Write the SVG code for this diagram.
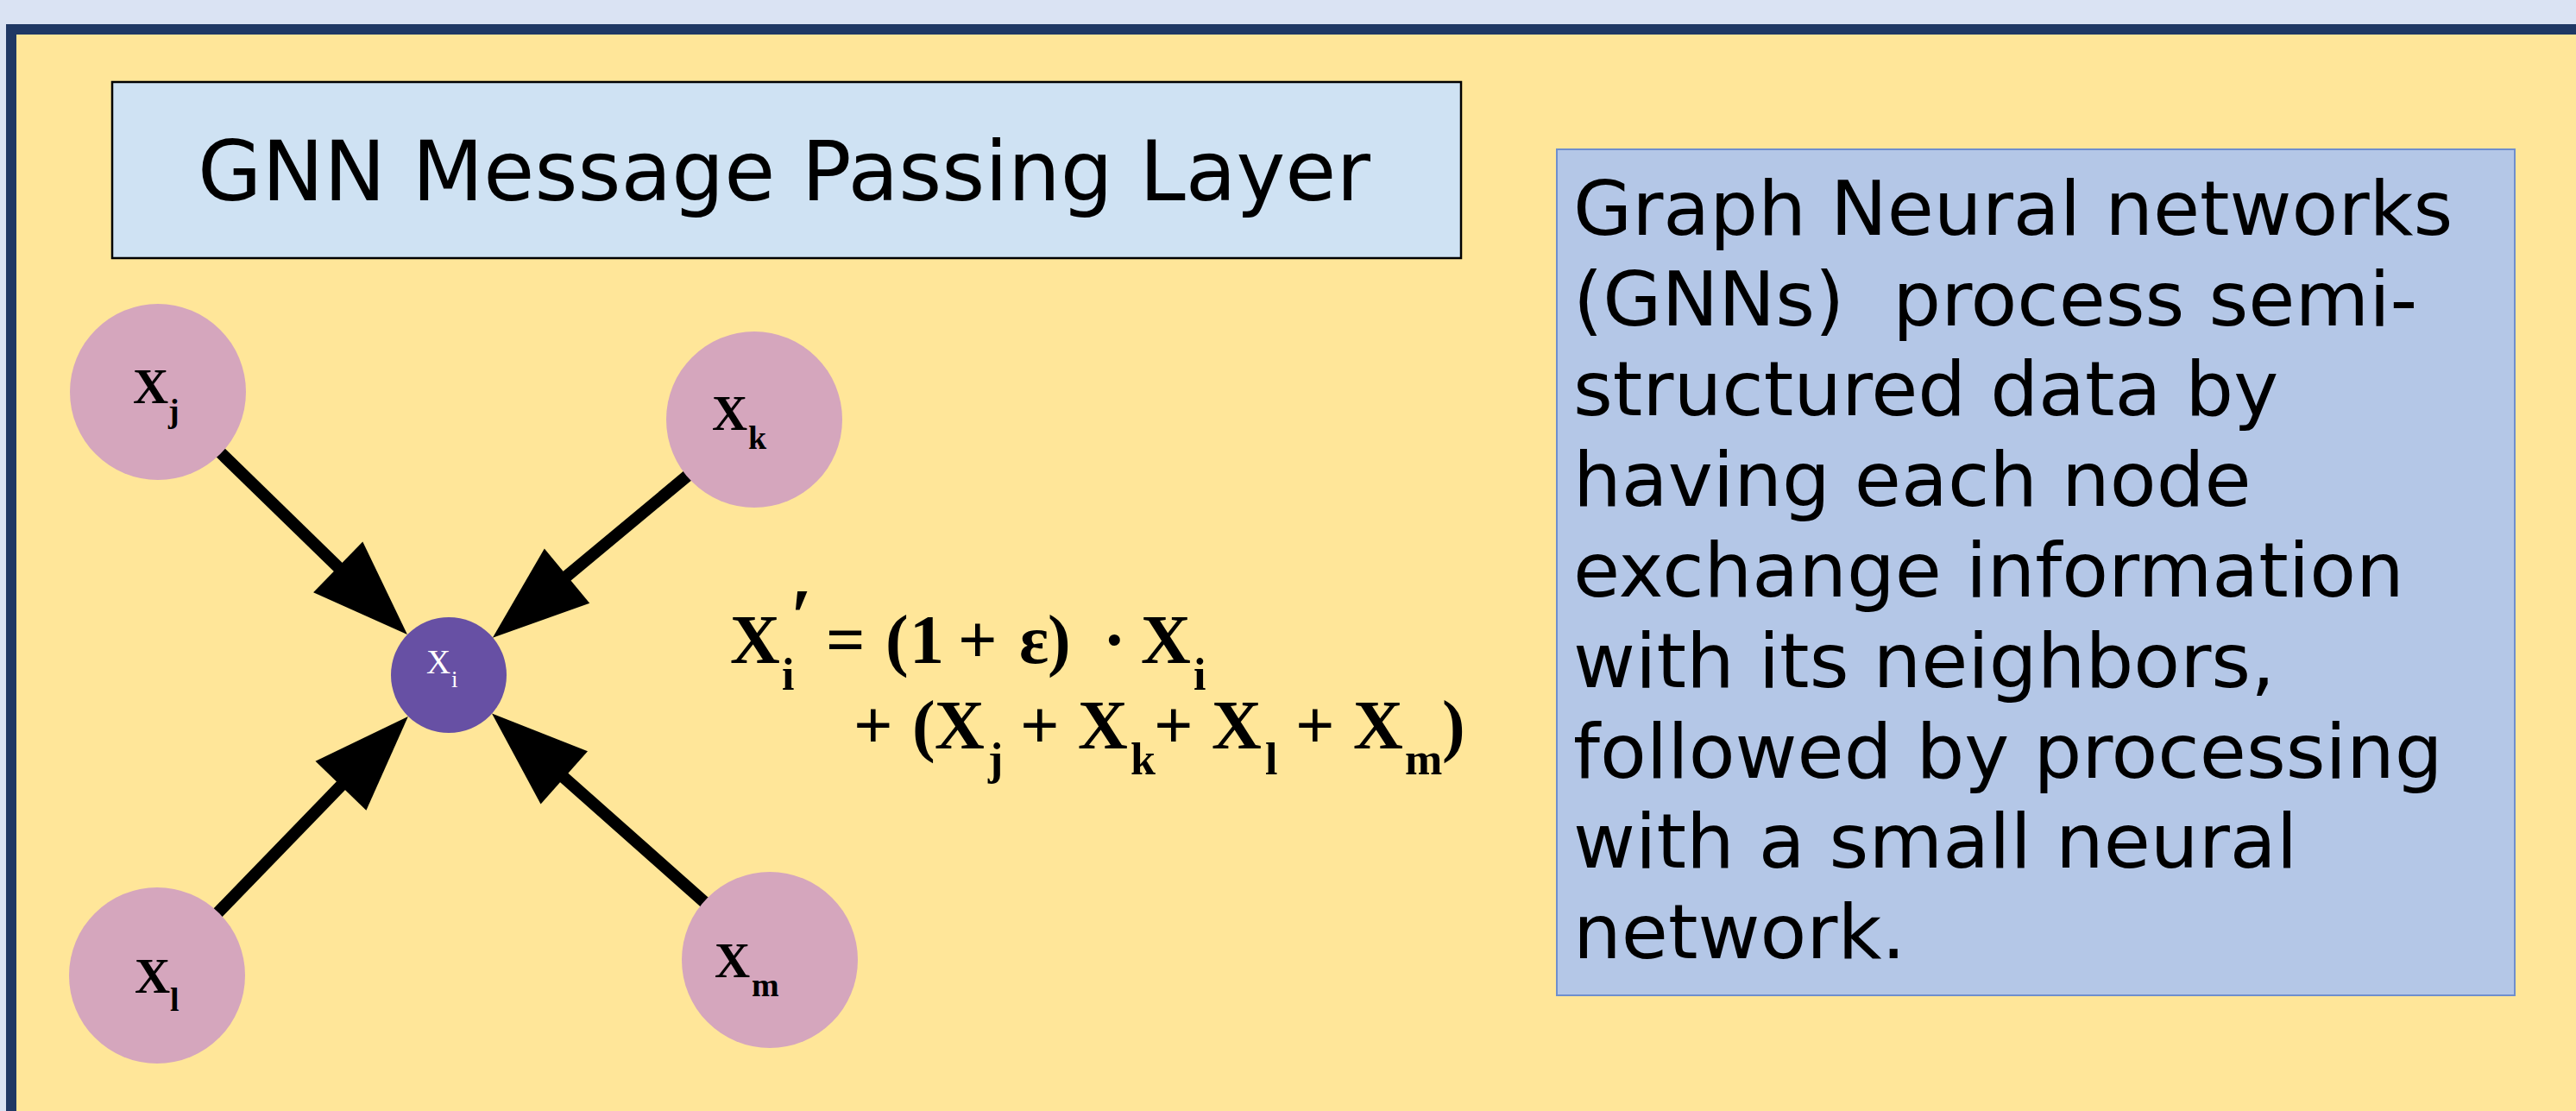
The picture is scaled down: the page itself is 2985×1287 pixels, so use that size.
<svg xmlns="http://www.w3.org/2000/svg" width="2985" height="1287" viewBox="0 0 2985 1287">
<style>
.nb{fill:#D5A6BD}
.lbl{font-family:"Liberation Serif","Times New Roman",serif;font-weight:bold;fill:#000}
.eq{font-family:"Liberation Serif","Times New Roman",serif;font-weight:bold;font-size:80px;fill:#000}
.sub{font-size:52px}
.conn{stroke:#000;stroke-width:14;fill:none}
.body{font-family:"DejaVu Sans",Verdana,sans-serif;font-size:88px;fill:#000}
</style>
<defs>
<marker id="ah" markerUnits="userSpaceOnUse" markerWidth="112" markerHeight="82" refX="12" refY="41" orient="auto" overflow="visible">
<path d="M0,0 L112,41 L0,82 z" fill="#000"/>
</marker>
</defs>
<rect x="0" y="0" width="2985" height="1287" fill="#DAE3F3"/>
<rect x="7" y="28" width="2978" height="1259" fill="#1F3864"/>
<rect x="19" y="40" width="2966" height="1247" fill="#FFE699"/>

<g id="title">
<rect x="130" y="95" width="1563" height="204" fill="#CFE2F3" stroke="#000" stroke-width="2.5"/>
<text x="229" y="232" font-family="'DejaVu Sans',Verdana,sans-serif" font-size="96" fill="#000">GNN Message Passing Layer</text>
</g>

<g id="connectors">
<line class="conn" x1="249" y1="518" x2="400.3" y2="665.3" marker-end="url(#ah)"/>
<line class="conn" x1="804" y1="545" x2="647.8" y2="674.8" marker-end="url(#ah)"/>
<line class="conn" x1="246" y1="1064" x2="403.3" y2="901.7" marker-end="url(#ah)"/>
<line class="conn" x1="823" y1="1051" x2="644.8" y2="892.9" marker-end="url(#ah)"/>
</g>

<g id="node-xj">
<circle class="nb" cx="183" cy="454" r="102"/>
<text class="lbl"><tspan x="154" y="467" font-size="57">X</tspan><tspan x="195" y="489" font-size="38">j</tspan></text>
</g>
<g id="node-xk">
<circle class="nb" cx="874" cy="486" r="102"/>
<text class="lbl"><tspan x="825" y="498" font-size="57">X</tspan><tspan x="867" y="520" font-size="38">k</tspan></text>
</g>
<g id="node-xl">
<circle class="nb" cx="182" cy="1130" r="102"/>
<text class="lbl"><tspan x="156" y="1150" font-size="57">X</tspan><tspan x="197" y="1171" font-size="38">l</tspan></text>
</g>
<g id="node-xm">
<circle class="nb" cx="892" cy="1112" r="102"/>
<text class="lbl"><tspan x="828" y="1132" font-size="57">X</tspan><tspan x="871" y="1154" font-size="38">m</tspan></text>
</g>
<g id="node-xi">
<circle cx="520" cy="782" r="67" fill="#6750A4"/>
<text font-family="'Liberation Serif','Times New Roman',serif" fill="#FFFFFF"><tspan x="494" y="780" font-size="39">X</tspan><tspan x="523" y="796" font-size="27">i</tspan></text>
</g>

<g id="formula">
<text class="eq">
<tspan x="846" y="768">X</tspan><tspan class="sub" x="906" y="799">i</tspan><tspan x="916" y="745" font-size="90">′</tspan><tspan x="957" y="768">=</tspan><tspan x="1026" y="768">(</tspan><tspan x="1054" y="768">1</tspan><tspan x="1110" y="768">+</tspan><tspan x="1181" y="768">ε</tspan><tspan x="1214" y="768">)</tspan><tspan x="1278" y="768">·</tspan><tspan x="1322" y="768">X</tspan><tspan class="sub" x="1383" y="799">i</tspan>
</text>
<text class="eq">
<tspan x="989" y="867">+</tspan><tspan x="1057" y="867">(</tspan><tspan x="1083" y="867">X</tspan><tspan class="sub" x="1145" y="897">j</tspan><tspan x="1182" y="867">+</tspan><tspan x="1249" y="867">X</tspan><tspan class="sub" x="1310" y="897">k</tspan><tspan x="1337" y="867">+</tspan><tspan x="1404" y="867">X</tspan><tspan class="sub" x="1466" y="897">l</tspan><tspan x="1501" y="867">+</tspan><tspan x="1568" y="867">X</tspan><tspan class="sub" x="1628" y="897">m</tspan><tspan x="1671" y="867">)</tspan>
</text>
</g>

<g id="description">
<rect x="1804" y="173" width="1110" height="980" fill="#B4C7E7" stroke="#6F8FCD" stroke-width="2"/>
<text class="body" xml:space="preserve"><tspan x="1823" y="272">Graph Neural networks</tspan><tspan x="1823" y="377">(GNNs)  process semi-</tspan><tspan x="1823" y="481">structured data by</tspan><tspan x="1823" y="586">having each node</tspan><tspan x="1823" y="691">exchange information</tspan><tspan x="1823" y="796">with its neighbors,</tspan><tspan x="1823" y="901">followed by processing</tspan><tspan x="1823" y="1005">with a small neural</tspan><tspan x="1823" y="1110">network.</tspan></text>
</g>
</svg>
